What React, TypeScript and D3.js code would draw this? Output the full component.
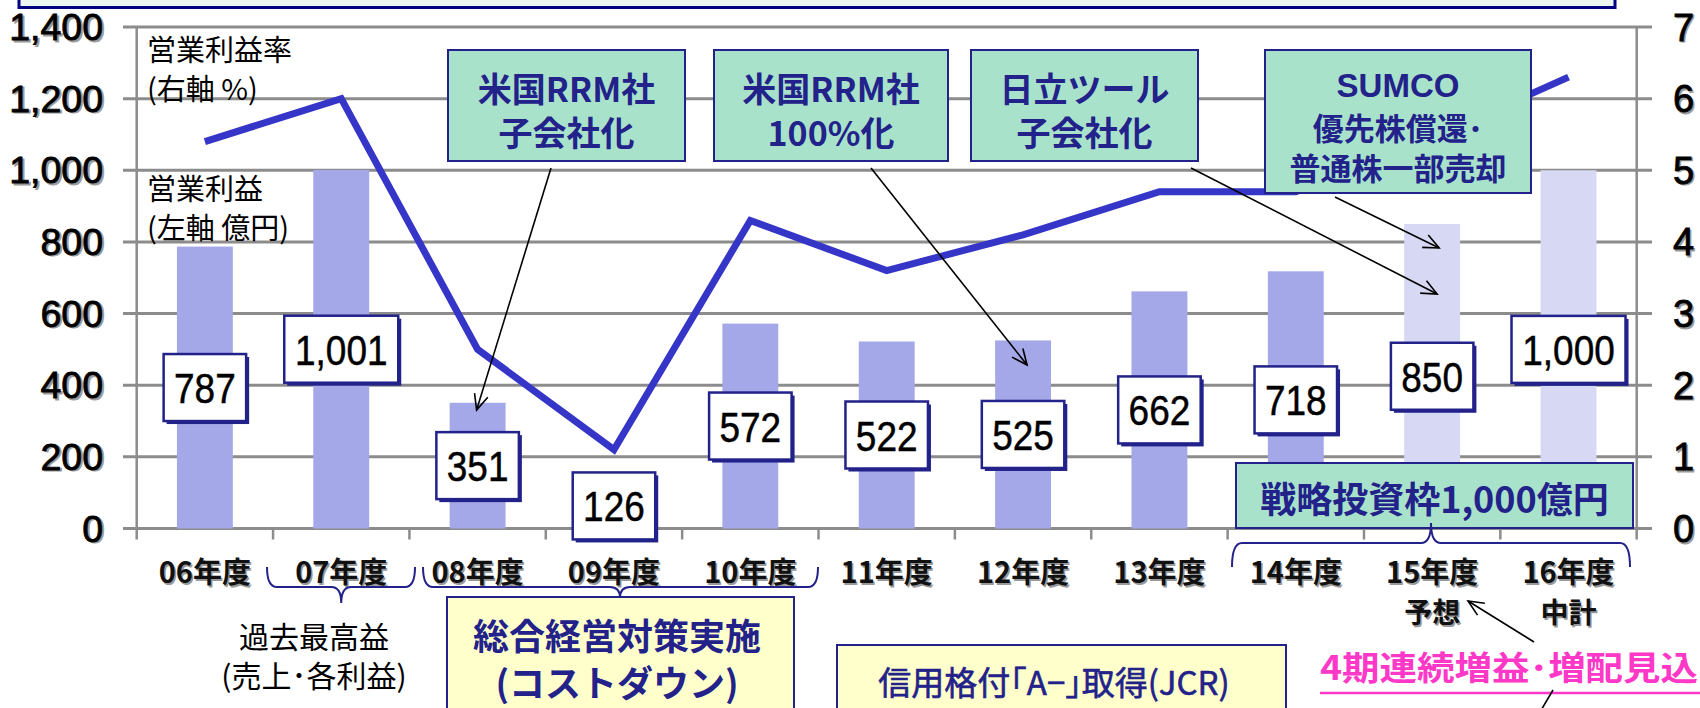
import React from "react";
import * as d3 from "d3";

const categories = ["06年度", "07年度", "08年度", "09年度", "10年度", "11年度", "12年度", "13年度", "14年度", "15年度", "16年度"];
const operatingIncome = [787, 1001, 351, 126, 572, 522, 525, 662, 718, 850, 1000];
const isPlan = [false, false, false, false, false, false, false, false, false, true, true];
const operatingMargin = [5.4, 6.0, 2.5, 1.1, 4.3, 3.6, 4.1, 4.7, 4.7, 5.45, 6.3];
const leftTicks = [0, 200, 400, 600, 800, 1000, 1200, 1400];
const rightTicks = [0, 1, 2, 3, 4, 5, 6, 7];
const subLabels = [{ cat: "15年度", text: "予想" }, { cat: "16年度", text: "中計" }];

const W = 1700, H = 708;
const PL = 136.7, PR = 1636.7, PT = 27, PB = 528.5;
const JP = "'Noto Sans CJK JP', 'Noto Sans', sans-serif";
const LAT = "'Liberation Sans', Arial, sans-serif";
const NAVY = "#22228a";
const GREEN = "#a9e2cb";

function Arrow({ x1, y1, x2, y2, color = "#000", w = 1.6 }: any) {
  const a = Math.atan2(y2 - y1, x2 - x1);
  const L = 17, sp = 0.42;
  const p1 = [x2 - L * Math.cos(a - sp), y2 - L * Math.sin(a - sp)];
  const p2 = [x2 - L * Math.cos(a + sp), y2 - L * Math.sin(a + sp)];
  return (
    <g stroke={color} strokeWidth={w} fill="none">
      <line x1={x1} y1={y1} x2={x2} y2={y2} />
      <polyline points={`${p1[0]},${p1[1]} ${x2},${y2} ${p2[0]},${p2[1]}`} />
    </g>
  );
}

function brace(x1: number, x2: number, cx: number, yEnd: number, yMid: number, yTip: number) {
  const r = 10;
  return `M${x1},${yEnd} Q${x1},${yMid} ${x1 + r},${yMid} L${cx - r},${yMid} Q${cx},${yMid} ${cx},${yTip} Q${cx},${yMid} ${cx + r},${yMid} L${x2 - r},${yMid} Q${x2},${yMid} ${x2},${yEnd}`;
}

function GreenBox({ x, y, w, h, lines, fs, lineY, fonts }: any) {
  return (
    <g>
      <rect x={x} y={y} width={w} height={h} fill={GREEN} stroke={NAVY} strokeWidth={2} />
      {lines.map((t: string, i: number) => (
        <text key={i} x={x + w / 2} y={lineY[i]} textAnchor="middle" dominantBaseline="central"
          fontFamily={fonts ? fonts[i] : JP} fontWeight="bold" fontSize={Array.isArray(fs) ? fs[i] : fs} fill={NAVY}>{t}</text>
      ))}
    </g>
  );
}

export default function App() {
  const x = d3.scaleBand<string>().domain(categories).range([PL, PR]).paddingInner(0.59).paddingOuter(0.295);
  const step = x.step();
  const bw = x.bandwidth();
  const cx = (c: string) => (x(c) as number) + bw / 2;
  const yL = d3.scaleLinear().domain([0, 1400]).range([PB, PT]);
  const yR = d3.scaleLinear().domain([0, 7]).range([PB, PT]);
  const fmt = d3.format(",");

  const line = d3.line<number>().x((_, i) => cx(categories[i])).y((d) => yR(d));

  const c08 = cx("08年度"), c12 = cx("12年度"), c15 = cx("15年度");

  return (
    <svg width={W} height={H} style={{ position: "absolute", left: 0, top: 0, background: "#fff" }}>
      <rect x={0} y={0} width={W} height={H} fill="#fff" />
      {/* top frame */}
      <rect x={19} y={-20} width={1596} height={27.5} fill="#eef6f2" stroke="#000080" strokeWidth={3} />

      {/* gridlines */}
      {leftTicks.map((t) => (
        <line key={t} x1={123} x2={1652} y1={yL(t)} y2={yL(t)} stroke="#8c8c8c" strokeWidth={3} />
      ))}
      <line x1={PL} x2={PL} y1={PT} y2={PB} stroke="#8c8c8c" strokeWidth={2.5} />
      <line x1={PR} x2={PR} y1={PT} y2={PB} stroke="#8c8c8c" strokeWidth={2.5} />
      {d3.range(categories.length + 1).map((i) => (
        <line key={i} x1={PL + i * step} x2={PL + i * step} y1={PB} y2={PB + 11} stroke="#8c8c8c" strokeWidth={2.5} />
      ))}

      {/* left axis labels */}
      {leftTicks.map((t) => (
        <g key={t} fontFamily={LAT} fontSize={37.5} textAnchor="end">
          <text x={105} y={yL(t) + 14.5} fill="#9a9a9a" stroke="#9a9a9a" strokeWidth={0.8}>{fmt(t)}</text>
          <text x={103} y={yL(t) + 13} fill="#000" stroke="#000" strokeWidth={0.8}>{fmt(t)}</text>
        </g>
      ))}
      {/* right axis labels */}
      {rightTicks.map((t) => (
        <g key={t} fontFamily={LAT} fontSize={38} textAnchor="start">
          <text x={1674.5} y={yR(t) + 15} fill="#9a9a9a" stroke="#9a9a9a" strokeWidth={0.8}>{t}</text>
          <text x={1673} y={yR(t) + 13.5} fill="#000" stroke="#000" strokeWidth={0.8}>{t}</text>
        </g>
      ))}

      {/* bars */}
      {operatingIncome.map((v, i) => (
        <rect key={i} x={x(categories[i])} y={yL(v)} width={bw} height={yL(0) - yL(v)}
          fill={isPlan[i] ? "#d6d8f4" : "#a4a8e8"} />
      ))}

      {/* margin line */}
      <path d={line(operatingMargin) as string} fill="none" stroke="#3535c8" strokeWidth={7} strokeLinejoin="miter" />

      {/* value label boxes */}
      {operatingIncome.map((v, i) => {
        const s = fmt(v);
        const digits = s.replace(/,/g, "").length;
        const commas = s.length - digits;
        const w = 18 + digits * 21.5 + commas * 10;
        const h = 67;
        const c = cx(categories[i]);
        const my = (yL(v) + yL(0)) / 2;
        return (
          <g key={i}>
            <rect x={c - w / 2 + 3} y={my - h / 2 + 3} width={w} height={h} fill={NAVY} />
            <rect x={c - w / 2} y={my - h / 2} width={w} height={h} fill="#fff" stroke={NAVY} strokeWidth={2.5} />
            <g transform={`translate(${c},${my + 15.5}) scale(0.86,1)`}>
              <text x={0} y={0} textAnchor="middle" fontFamily={LAT} fontSize={43} fill="#000" stroke="#000" strokeWidth={0.5}>{s}</text>
            </g>
          </g>
        );
      })}

      {/* x axis labels */}
      {categories.map((c) => (
        <g key={c} fontFamily={JP} fontWeight="bold" fontSize={29} textAnchor="middle">
          <text x={cx(c) + 1.5} y={570 + 1.5} dominantBaseline="central" fill="#999">{c}</text>
          <text x={cx(c)} y={570} dominantBaseline="central" fill="#111">{c}</text>
        </g>
      ))}
      {subLabels.map((s) => (
        <g key={s.text} fontFamily={JP} fontWeight="bold" fontSize={28} textAnchor="middle">
          <text x={cx(s.cat) + 1.5} y={612.5} dominantBaseline="central" fill="#999">{s.text}</text>
          <text x={cx(s.cat)} y={611} dominantBaseline="central" fill="#111">{s.text}</text>
        </g>
      ))}

      {/* legend-like labels */}
      <g fontFamily={JP} fontSize={29} fill="#000" dominantBaseline="central">
        <text x={147} y={48}>営業利益率</text>
        <text x={147} y={87}>(右軸 %)</text>
        <text x={147} y={187}>営業利益</text>
        <text x={147} y={226}>(左軸 億円)</text>
      </g>

      {/* green annotation boxes */}
      <GreenBox x={448} y={50} w={237} h={111} lines={["米国RRM社", "子会社化"]} fs={34} lineY={[87, 131]} />
      <GreenBox x={714} y={50} w={234} h={111} lines={["米国RRM社", "100%化"]} fs={34} lineY={[87, 131]} />
      <GreenBox x={971} y={50} w={227} h={111} lines={["日立ツール", "子会社化"]} fs={34} lineY={[87, 131]} />
      <GreenBox x={1265} y={50} w={266} h={143} lines={["SUMCO", "優先株償還･", "普通株一部売却"]} fs={[33, 31, 31]}
        fonts={[LAT, JP, JP]} lineY={[85, 126, 166]} />
      <GreenBox x={1236} y={463} w={397} h={65} lines={["戦略投資枠1,000億円"]} fs={36} lineY={[497]} />

      {/* arrows */}
      <Arrow x1={551} y1={168} x2={c08 - 1} y2={410} />
      <Arrow x1={871} y1={168} x2={c12 + 4} y2={365} />
      <Arrow x1={1191} y1={168} x2={c15 + 5} y2={294} />
      <Arrow x1={1335} y1={197} x2={c15 + 7} y2={248} />

      {/* braces */}
      <g fill="none" stroke={NAVY} strokeWidth={2}>
        <path d={brace(267, 415, cx("07年度"), 567, 587, 603)} />
        <path d={brace(423, 818, 620, 567, 587, 598)} />
        <path d={brace(1232, 1630, 1431, 567, 543, 523)} />
      </g>

      {/* bottom texts */}
      <g fontFamily={JP} fontSize={30} fill="#000" textAnchor="middle" dominantBaseline="central">
        <text x={314} y={635}>過去最高益</text>
        <text x={314} y={674}>(売上･各利益)</text>
      </g>

      <rect x={447} y={597} width={347} height={130} fill="#ffffcc" stroke={NAVY} strokeWidth={2} />
      <g fontFamily={JP} fontSize={36} fontWeight="bold" fill={NAVY} textAnchor="middle" dominantBaseline="central">
        <text x={617} y={634}>総合経営対策実施</text>
        <text x={617} y={681}>(コストダウン)</text>
      </g>

      <rect x={837} y={645} width={449} height={80} fill="#ffffcc" stroke={NAVY} strokeWidth={2} />
      <text x={1054} y={681} fontFamily={JP} fontSize={33} fill={NAVY} stroke={NAVY} strokeWidth={0.6}
        textAnchor="middle" dominantBaseline="central">信用格付｢A−｣取得(JCR)</text>

      <text x={1320} y={666} fontFamily={JP} fontSize={33} fontWeight="bold" fill="#ff38c8"
        textLength={378} lengthAdjust="spacingAndGlyphs" dominantBaseline="central">4期連続増益･増配見込</text>
      <line x1={1320} x2={1700} y1={693} y2={693} stroke="#ff38c8" strokeWidth={2.5} />

      <Arrow x1={1534} y1={642} x2={1468} y2={601} />
      <line x1={1553} y1={690} x2={1540} y2={712} stroke="#000" strokeWidth={1.6} />
    </svg>
  );
}
